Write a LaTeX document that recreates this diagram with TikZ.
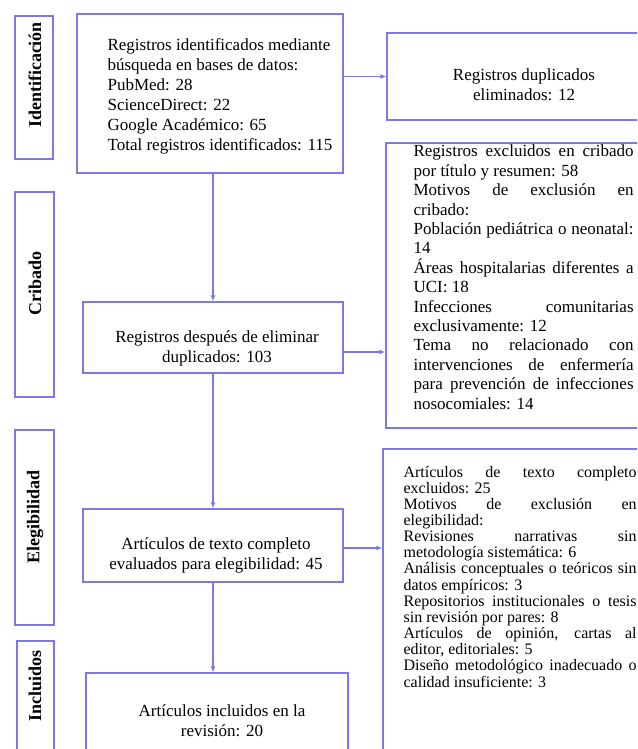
\documentclass[tikz,border=0pt]{standalone}
\usepackage{fontspec}
\setmainfont{Liberation Serif}
\usetikzlibrary{arrows.meta,calc,positioning}
\definecolor{lila}{RGB}{124,122,226}
\lineskiplimit=-50pt\relax
\newcommand{\llena}[2][220pt]{\makebox[#1][s]{#2}}
\tikzset{
    -{Latex[length=6pt,width=5pt]},x=1pt,y=-1pt,
    caja/.style ={draw=lila, line width=1.2pt, rectangle, inner sep=0pt},
    etapa/.style = {rotate=90, inner sep=0pt, font=\fontsize{18}{20}\selectfont\bfseries},
    txt/.style = {inner sep=0pt, align=left, font=\fontsize{17}{20}\selectfont},
    txtc/.style = {inner sep=0pt, align=center, font=\fontsize{17}{20}\selectfont},
    lista/.style = {inner sep=0pt, align=left, font=\fontsize{17}{19.4}\selectfont},
    listb/.style = {inner sep=0pt, align=left, font=\fontsize{16}{16.15}\selectfont}
}

\begin{document}
\begin{tikzpicture}[draw=lila, line width=1.2pt]
	\useasboundingbox (0,0) rectangle (637,749);
	\clip (0,0) rectangle (637,749);
	% fases
	\node[caja, minimum width=38, minimum height=143] (fI) at (34,87.5) {};
	\node[caja, minimum width=39, minimum height=205] (fC) at (34.5,294.5) {};
	\node[caja, minimum width=39, minimum height=195] (fE) at (34.5,527.5) {};
	\node[caja, minimum width=37, minimum height=130] (fN) at (35.5,706) {};
	\node[etapa] (eI) at (35,75) {Identificación};
	\node[etapa] (eC) at (35,283) {Cribado};
	\node[etapa] (eE) at (35,517) {Elegibilidad};
	\node[etapa] (eN) at (35,686) {Incluidos};

	% cajas
	\node[caja, minimum width=266, minimum height=159] (busq) at (210,93.5) {};
	\node[caja, minimum width=274, minimum height=87] (dupl) at (524,76.5) {};
	\node[caja, minimum width=260, minimum height=71] (tras) at (213,337.5) {};
	\node[caja, minimum width=274, minimum height=285] (exC) at (523,285.5) {};
	\node[caja, minimum width=260, minimum height=73] (eval) at (213,545.5) {};
	\node[caja, minimum width=277, minimum height=321] (exE) at (521.5,609.5) {};
	\node[caja, minimum width=262, minimum height=100] (incl) at (217,723) {};

	% textos (base = ultima linea)
	\node[txt, anchor=base west] (busqT) at (107,150.5) {Registros identificados mediante\\búsqueda en bases de datos:\\PubMed: 28\\ScienceDirect: 22\\Google Académico: 65\\Total registros identificados: 115};
	\node[txtc, anchor=base] (duplT) at (524,101) {Registros duplicados\\eliminados: 12};
	\node[txtc, anchor=base] (trasT) at (217,362) {Registros después de eliminar\\duplicados: 103};
	\node[txtc, anchor=base] (evalT) at (216,569) {Artículos de texto completo\\evaluados para elegibilidad: 45};
	\node[txtc, anchor=base] (inclT) at (222,736) {Artículos incluidos en la\\revisión: 20};
	\node[lista, anchor=base west] (exCT) at (413,409) {\llena{Registros excluidos en cribado}\\por título y resumen: 58\\\llena{Motivos de exclusión en}\\cribado:\\\llena{Población pediátrica o neonatal:}\\14\\\llena{Áreas hospitalarias diferentes a}\\UCI: 18\\\llena{Infecciones comunitarias}\\exclusivamente: 12\\\llena{Tema no relacionado con}\\\llena{intervenciones de enfermería}\\\llena{para prevención de infecciones}\\nosocomiales: 14};
	\node[listb, anchor=base west] (exET) at (403,687) {\llena[233pt]{Artículos de texto completo}\\excluidos: 25\\\llena[233pt]{Motivos de exclusión en}\\elegibilidad:\\\llena[233pt]{Revisiones narrativas sin}\\metodología sistemática: 6\\\llena[233pt]{Análisis conceptuales o teóricos sin}\\datos empíricos: 3\\\llena[233pt]{Repositorios institucionales o tesis}\\sin revisión por pares: 8\\\llena[233pt]{Artículos de opinión, cartas al}\\editor, editoriales: 5\\\llena[233pt]{Diseño metodológico inadecuado o}\\calidad insuficiente: 3};

	% flechas
	\draw (busq.east |- dupl.west) -- (dupl.west);
	\draw (busq.south -| tras.north) -- (tras.north);
	\draw ([yshift=-14.5pt]tras.east) -- ([yshift=-14.5pt]tras.east -| exC.west);
	\draw (tras.south) -- (eval.north);
	\draw ([yshift=-2.5pt]eval.east) -- ([yshift=-2.5pt]eval.east -| exE.west);
	\draw (eval.south) -- (eval.south |- incl.north);
\end{tikzpicture}
\end{document}
